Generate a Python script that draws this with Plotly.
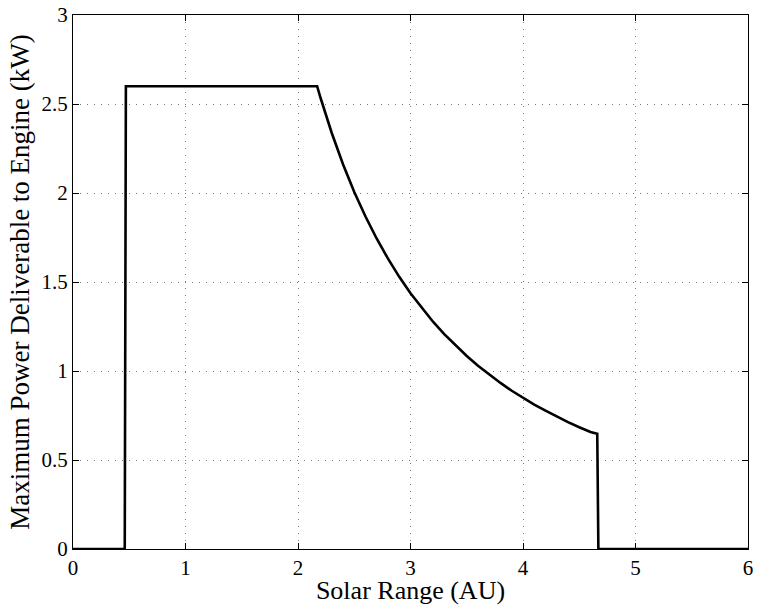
import plotly.graph_objects as go

solar_range_au = [0, 0.46, 0.47, 2.17, 2.2, 2.3, 2.4, 2.5, 2.6, 2.7, 2.8, 2.9, 3.0,
                  3.1, 3.2, 3.3, 3.4, 3.5, 3.6, 3.7, 3.8, 3.9, 4.0, 4.1, 4.2, 4.3,
                  4.4, 4.5, 4.6, 4.66, 4.67, 6]
power_kw = [0, 0, 2.600, 2.600, 2.535, 2.337, 2.162, 2.006, 1.868, 1.743, 1.631, 1.529, 1.437,
            1.354, 1.277, 1.207, 1.143, 1.084, 1.030, 0.979, 0.933, 0.889, 0.849, 0.811, 0.777,
            0.744, 0.713, 0.684, 0.657, 0.648, 0, 0]

x_ticks = [0, 1, 2, 3, 4, 5, 6]
y_ticks = [0, 0.5, 1, 1.5, 2, 2.5, 3]
y_tick_labels = ["0", "0.5", "1", "1.5", "2", "2.5", "3"]

FONT = "Liberation Serif, Times New Roman, serif"

fig = go.Figure()
fig.add_trace(go.Scatter(x=solar_range_au, y=power_kw, mode="lines",
                         line=dict(color="black", width=2.6, shape="linear"),
                         showlegend=False))

axis_common = dict(
    showline=True, linecolor="black", linewidth=1, mirror="allticks",
    ticks="inside", ticklen=6, tickcolor="black", tickwidth=1,
    showgrid=True, gridcolor="#7a7a7a", gridwidth=1, griddash="1px,6px",
    zeroline=False, automargin=False,
    tickfont=dict(family=FONT, size=21, color="black"),
)

fig.update_xaxes(range=[0, 6], tickvals=x_ticks, ticktext=[str(v) for v in x_ticks],
                 title=dict(text="Solar Range (AU)", font=dict(family=FONT, size=26, color="black"),
                            standoff=4),
                 **axis_common)
fig.update_yaxes(range=[0, 3], tickvals=y_ticks, ticktext=y_tick_labels,
                 title=dict(text="Maximum Power Deliverable to Engine (kW)",
                            font=dict(family=FONT, size=27, color="black"), standoff=4),
                 **axis_common)

fig.update_layout(
    width=758, height=605,
    font=dict(family=FONT, color="black"),
    margin=dict(l=73, r=10, t=15, b=56),
    plot_bgcolor="white", paper_bgcolor="white",
)

fig.write_html("out.html", config={"displayModeBar": False},
               post_script="document.body.style.margin='0';document.body.style.overflow='hidden';")
